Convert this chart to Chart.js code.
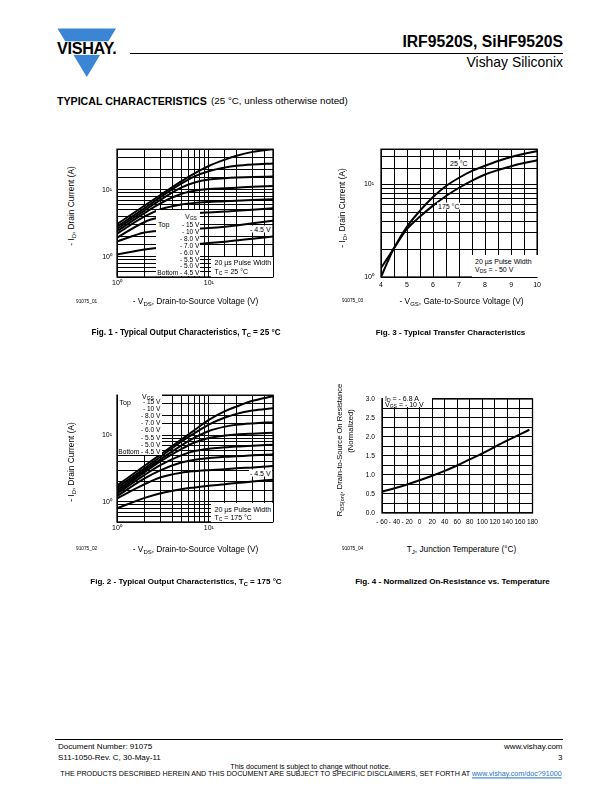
<!DOCTYPE html>
<html><head><meta charset="utf-8"><title>IRF9520S, SiHF9520S - Typical Characteristics</title>
<script src="https://cdn.jsdelivr.net/npm/chart.js@4.4.1/dist/chart.umd.min.js"></script>
<style>
html,body{margin:0;padding:0;background:#fff;}
body{position:relative;width:612px;height:792px;overflow:hidden;font-family:"Liberation Sans",Arial,Helvetica,sans-serif;color:#000;}
.t{position:absolute;white-space:nowrap;line-height:1;}
.l{transform:translateY(-50%);}
.c{transform:translate(-50%,-50%);}
.v{transform:translate(-50%,-50%) rotate(-90deg);}
.b{font-weight:bold;}
.w{background:#fff;padding:0 1px;}
.box{position:absolute;background:#fff;}
canvas{position:absolute;}
sub{font-size:72%;vertical-align:-0.28em;line-height:0;}
.s7{font-size:7px;}
.s6{font-size:6.6px;}
.ax{font-size:8.3px;}
.id{font-size:5px;}
.rule{position:absolute;background:#000;}
a{color:#1f6fc5;text-decoration:underline;}
</style></head><body>
<script>
// ---------- DATA ----------
// Fig. 1 / Fig. 2 : -ID (A) versus -VDS (V), one curve per gate voltage
const vdsPoints = [1, 2, 3, 5, 7, 10, 15, 20, 30, 50];
const vgsLabels = ['- 15 V', '- 10 V', '- 8.0 V', '- 7.0 V', '- 6.0 V', '- 5.5 V', '- 5.0 V', 'Bottom - 4.5 V'];
// Fig. 1, TC = 25 °C
const fig1Vgs15  = [3.05, 5.8, 8.4, 13.3, 17.5, 22.5, 28.0, 32.0, 36.5, 40.0];
const fig1Vgs10  = [2.8, 5.3, 7.8, 12.3, 15.8, 18.8, 21.3, 22.6, 23.7, 24.6];
const fig1Vgs8   = [2.6, 4.9, 7.1, 10.7, 12.8, 14.2, 14.8, 15.1, 15.4, 15.7];
const fig1Vgs7   = [2.4, 4.5, 6.3, 8.6, 9.6, 10.2, 10.5, 10.7, 11.0, 11.3];
const fig1Vgs6   = [2.2, 4.0, 5.1, 6.0, 6.35, 6.55, 6.7, 6.85, 7.0, 7.2];
const fig1Vgs55  = [1.92, 3.3, 3.9, 4.3, 4.45, 4.58, 4.72, 4.83, 5.03, 5.3];
const fig1Vgs5   = [1.69, 2.3, 2.45, 2.55, 2.62, 2.68, 2.8, 2.93, 3.15, 3.45];
const fig1Vgs45  = [1.08, 1.28, 1.38, 1.48, 1.54, 1.6, 1.68, 1.75, 1.86, 2.0];
// Fig. 2, TC = 175 °C
const fig2Vgs15  = [1.76, 3.5, 5.2, 8.6, 12.0, 17.0, 23.0, 27.0, 33.0, 38.5];
const fig2Vgs10  = [1.62, 3.2, 4.8, 8.0, 10.8, 14.5, 18.5, 21.0, 23.5, 25.4];
const fig2Vgs8   = [1.5, 3.0, 4.4, 7.0, 9.2, 11.6, 13.5, 14.4, 15.1, 15.7];
const fig2Vgs7   = [1.4, 2.8, 4.1, 6.2, 7.8, 9.1, 9.9, 10.3, 10.6, 10.9];
const fig2Vgs6   = [1.33, 2.55, 3.6, 5.0, 5.8, 6.3, 6.6, 6.8, 7.0, 7.2];
const fig2Vgs55  = [1.22, 2.25, 3.0, 3.9, 4.3, 4.55, 4.75, 4.85, 5.0, 5.17];
const fig2Vgs5   = [1.13, 1.85, 2.35, 2.75, 2.9, 3.0, 3.1, 3.2, 3.3, 3.45];
const fig2Vgs45  = [0.8, 1.15, 1.35, 1.55, 1.65, 1.75, 1.85, 1.92, 2.03, 2.15];
// Fig. 3 : -ID (A) versus -VGS (V)
const vgsPoints  = [4, 4.25, 4.5, 5, 5.5, 6, 6.5, 7, 7.5, 8, 8.5, 9, 9.5, 10];
const id25C      = [1.0, 1.45, 2.05, 3.5, 5.2, 7.3, 9.6, 11.8, 14.0, 15.9, 17.9, 19.8, 21.4, 22.8];
const id175C     = [1.25, 1.6, 2.05, 3.3, 4.5, 5.9, 7.5, 9.2, 11.0, 12.8, 14.3, 15.7, 17.0, 18.2];
// Fig. 4 : normalized RDS(on) versus TJ (°C)
const tjPoints   = [-60, -40, -20, 0, 20, 40, 60, 80, 100, 120, 140, 160, 175];
const rdsNorm    = [0.56, 0.65, 0.75, 0.86, 0.98, 1.11, 1.25, 1.41, 1.57, 1.74, 1.91, 2.07, 2.19];
// tick labels
const logTickLabels = {1: '10\u2070', 10: '10\u00B9'};
</script>

<!-- ===== Header ===== -->
<svg class="t" style="left:50px;top:24px" width="75" height="58" viewBox="50 24 75 58">
  <polygon points="57.5,28.5 116,28.5 86.8,77" fill="#3a86d4"/>
  <rect x="50" y="41.3" width="75" height="13.6" fill="#fff"/>
</svg>
<div class="t l b" style="left:57px;top:48.3px;font-size:14px;letter-spacing:-0.3px" data-w="59">VISHAY.</div>
<div class="t l b" style="right:49px;top:42px;font-size:16px" data-w="161">IRF9520S, SiHF9520S</div>
<div class="rule" style="left:130px;top:53px;width:433px;height:1px"></div>
<div class="t l" style="right:49px;top:63px;font-size:13.5px" data-w="97">Vishay Siliconix</div>
<div class="t l b" style="left:57px;top:100.5px;font-size:10.5px" data-w="150">TYPICAL CHARACTERISTICS</div>
<div class="t l" style="left:211px;top:100.5px;font-size:9.8px" data-w="137">(25 °C, unless otherwise noted)</div>

<!-- ===== Canvases ===== -->
<canvas id="fig1" width="197" height="160" style="left:80px;top:140px"></canvas>
<canvas id="fig3" width="204" height="160" style="left:341px;top:138px"></canvas>
<canvas id="fig2" width="197" height="160" style="left:80px;top:386px"></canvas>
<canvas id="fig4" width="202" height="145" style="left:341px;top:388px"></canvas>

<!-- ===== Fig 1 annotations ===== -->
<div class="box" style="left:156px;top:210px;width:44px;height:66px"></div>
<div class="t c s7" style="left:191px;top:215.5px">V<sub>GS</sub></div>
<div class="t l s7" style="left:158px;top:224px">Top</div>
<div id="stack1"></div>
<div class="box" style="left:211px;top:256.5px;width:61.5px;height:20px"></div>
<div class="t l s7" style="left:214.5px;top:262px">20 µs Pulse Width</div>
<div class="t l s7" style="left:214.5px;top:270.5px">T<sub>C</sub> = 25 °C</div>
<div class="t l s7 w" style="left:249px;top:229px">- 4.5 V</div>
<div class="t v ax" style="left:70.5px;top:206px">- I<sub>D</sub>, Drain Current (A)</div>
<div class="t c ax" style="left:195.5px;top:301px">- V<sub>DS</sub>, Drain-to-Source Voltage (V)</div>
<div class="t l id" style="left:76px;top:302px" data-w="21">91075_01</div>
<div class="t c b" style="left:186px;top:333px;font-size:8px" data-w="189">Fig. 1 - Typical Output Characteristics, T<sub>C</sub> = 25 °C</div>

<!-- ===== Fig 3 annotations ===== -->
<div class="t l s7 w" style="left:449px;top:162.5px">25 °C</div>
<div class="t l s7 w" style="left:437px;top:205.5px">175 °C</div>
<div class="box" style="left:472px;top:255px;width:68.5px;height:21.5px"></div>
<div class="t l s7" style="left:475px;top:261px">20 µs Pulse Width</div>
<div class="t l s7" style="left:475px;top:269px">V<sub>DS</sub> = - 50 V</div>
<div class="t v ax" style="left:342px;top:208px">- I<sub>D</sub>, Drain Current (A)</div>
<div class="t c ax" style="left:461.5px;top:301px">- V<sub>GS</sub>, Gate-to-Source Voltage (V)</div>
<div class="t l id" style="left:342px;top:301px" data-w="21">91075_03</div>
<div class="t c b" style="left:450.5px;top:333px;font-size:8px" data-w="150">Fig. 3 - Typical Transfer Characteristics</div>

<!-- ===== Fig 2 annotations ===== -->
<div class="box" style="left:118px;top:394px;width:44px;height:60.5px"></div>
<div class="t c s7" style="left:148px;top:395.5px">V<sub>GS</sub></div>
<div class="t l s7" style="left:119.5px;top:402px">Top</div>
<div id="stack2"></div>
<div class="box" style="left:211px;top:503px;width:61.5px;height:18.5px"></div>
<div class="t l s7" style="left:214.5px;top:509px">20 µs Pulse Width</div>
<div class="t l s7" style="left:214.5px;top:517px">T<sub>C</sub> = 175 °C</div>
<div class="t l s7 w" style="left:249px;top:473px">- 4.5 V</div>
<div class="t v ax" style="left:70.5px;top:462px">- I<sub>D</sub>, Drain Current (A)</div>
<div class="t c ax" style="left:195.5px;top:548.5px">- V<sub>DS</sub>, Drain-to-Source Voltage (V)</div>
<div class="t l id" style="left:76px;top:549px" data-w="21">91075_02</div>
<div class="t c b" style="left:186px;top:582px;font-size:8px" data-w="192">Fig. 2 - Typical Output Characteristics, T<sub>C</sub> = 175 °C</div>

<!-- ===== Fig 4 annotations ===== -->
<div class="box" style="left:382.7px;top:395.7px;width:49px;height:11.8px"></div>
<div class="t l s7" style="left:385px;top:397.5px">I<sub>D</sub> = - 6.8 A</div>
<div class="t l s7" style="left:385px;top:404px">V<sub>GS</sub> = - 10 V</div>
<div class="t v ax" style="left:339.5px;top:450px;font-size:7.6px">R<sub>DS(on)</sub>, Drain-to-Source On Resistance</div>
<div class="t v ax" style="left:350.5px;top:431px;font-size:7.6px">(Normalized)</div>
<div class="t c ax" style="left:461.5px;top:548.5px">T<sub>J</sub>, Junction Temperature (°C)</div>
<div class="t l id" style="left:342px;top:549px" data-w="21">91075_04</div>
<div class="t c b" style="left:452.5px;top:582px;font-size:8px" data-w="195">Fig. 4 - Normalized On-Resistance vs. Temperature</div>

<!-- ===== Footer ===== -->
<div class="rule" style="left:55px;top:738.5px;width:508px;height:1px"></div>
<div class="t l" style="left:58px;top:747px;font-size:8px" data-w="94.5">Document Number: 91075</div>
<div class="t l" style="left:58px;top:757.5px;font-size:8px">S11-1050-Rev. C, 30-May-11</div>
<div class="t l" style="right:49.5px;top:747px;font-size:8px">www.vishay.com</div>
<div class="t l" style="right:49.5px;top:757.5px;font-size:8px">3</div>
<div class="t c" style="left:310.5px;top:767.5px;font-size:7.2px" data-w="160.5">This document is subject to change without notice.</div>
<div class="t c" style="left:311px;top:775px;font-size:7px" data-w="502">THE PRODUCTS DESCRIBED HEREIN AND THIS DOCUMENT ARE SUBJECT TO SPECIFIC DISCLAIMERS, SET FORTH AT <a>www.vishay.com/doc?91000</a></div>

<script>
// label stacks (V_GS legends)
function stack(id, rightX, startY, step){
  const host = document.getElementById(id);
  vgsLabels.forEach((txt, i) => {
    const d = document.createElement('div');
    d.className = 't l s6';
    d.style.right = (612 - rightX) + 'px';
    d.style.top = (startY + i * step) + 'px';
    d.textContent = txt;
    host.appendChild(d);
  });
}
stack('stack1', 199.5, 225, 6.9);
stack('stack2', 160.5, 402, 7.1);

// fit text widths
document.querySelectorAll('[data-w]').forEach(el => {
  const target = parseFloat(el.dataset.w);
  const fs = parseFloat(getComputedStyle(el).fontSize);
  const w = el.offsetWidth;
  if (w > 0) el.style.fontSize = (fs * target / w).toFixed(2) + 'px';
});

// ---------- CHARTS ----------
Chart.defaults.font.family = '"Liberation Sans", Arial, sans-serif';
Chart.defaults.font.size = 7;
Chart.defaults.color = '#000';

const framePlugin = {
  id: 'frame',
  afterDraw(chart) {
    const a = chart.chartArea, ctx = chart.ctx;
    ctx.save();
    ctx.strokeStyle = '#000';
    ctx.lineWidth = 1.3;
    ctx.strokeRect(a.left, a.top, a.right - a.left, a.bottom - a.top);
    ctx.restore();
  }
};

function curve(xs, ys) {
  return { data: xs.map((x, i) => ({ x: x, y: ys[i] })), borderColor: '#000', borderWidth: 2,
           pointRadius: 0, fill: false, cubicInterpolationMode: 'monotone' };
}
const grid = () => ({ color: '#000', lineWidth: 1, drawTicks: false });
const logTick = v => logTickLabels[v] || '';

function makeChart(id, datasets, xScale, yScale, pad) {
  return new Chart(document.getElementById(id), {
    type: 'line',
    data: { datasets: datasets },
    options: {
      responsive: false, devicePixelRatio: 1, animation: false, events: [],
      layout: { padding: pad },
      plugins: { legend: { display: false }, tooltip: { enabled: false } },
      scales: { x: xScale, y: yScale }
    },
    plugins: [framePlugin]
  });
}

function outputScales(xh, yw) {
  return [
    { type: 'logarithmic', min: 1, max: 50, grid: grid(), border: { display: false },
      ticks: { autoSkip: false, maxRotation: 0, minRotation: 0, padding: 2, callback: logTick },
      afterFit: s => { s.height = xh; } },
    { type: 'logarithmic', min: 0.5, max: 40, grid: grid(), border: { display: false },
      ticks: { autoSkip: false, padding: 5, callback: logTick },
      afterFit: s => { s.width = yw; } }
  ];
}

const f1 = outputScales(23, 37);
makeChart('fig1', [fig1Vgs15, fig1Vgs10, fig1Vgs8, fig1Vgs7, fig1Vgs6, fig1Vgs55, fig1Vgs5, fig1Vgs45].map(s => curve(vdsPoints, s)),
  f1[0], f1[1], { top: 6, right: 4, left: 0, bottom: 0 });

const f2 = outputScales(24, 37);
makeChart('fig2', [fig2Vgs15, fig2Vgs10, fig2Vgs8, fig2Vgs7, fig2Vgs6, fig2Vgs55, fig2Vgs5, fig2Vgs45].map(s => curve(vdsPoints, s)),
  f2[0], f2[1], { top: 7, right: 4, left: 0, bottom: 0 });

makeChart('fig3', [curve(vgsPoints, id25C), curve(vgsPoints, id175C)],
  { type: 'linear', min: 4, max: 10, grid: grid(), border: { display: false },
    ticks: { stepSize: 0.5, autoSkip: false, maxRotation: 0, padding: 4,
             callback: v => (Number.isInteger(v) ? String(v) : '') },
    afterFit: s => { s.height = 21; } },
  { type: 'logarithmic', min: 1, max: 24, grid: grid(), border: { display: false },
    ticks: { autoSkip: false, padding: 7, callback: logTick },
    afterFit: s => { s.width = 40; } },
  { top: 7, right: 4, left: 0, bottom: 0 });

makeChart('fig4', [curve(tjPoints, rdsNorm)],
  { type: 'linear', min: -60, max: 180, grid: grid(), border: { display: false },
    ticks: { stepSize: 20, autoSkip: false, maxRotation: 0, minRotation: 0, padding: 5, font: { size: 6.6 },
             callback: v => (v < 0 ? '- ' + Math.abs(v) : String(v)) },
    afterFit: s => { s.height = 20; } },
  { type: 'linear', min: 0, max: 3, grid: grid(), border: { display: false },
    ticks: { stepSize: 0.25, autoSkip: false, padding: 7, font: { size: 6.6 },
             callback: v => ((v * 2) % 1 === 0 ? v.toFixed(1) : '') },
    afterFit: s => { s.width = 41; } },
  { top: 7, right: 6, left: 0, bottom: 0 });
</script>
</body></html>
